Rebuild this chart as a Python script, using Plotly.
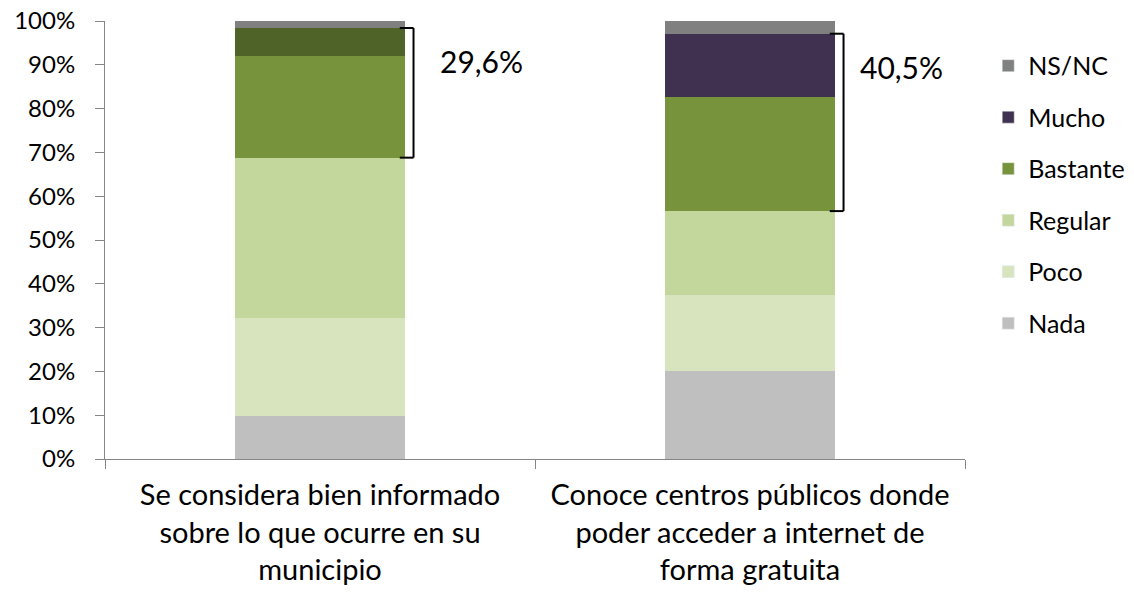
import plotly.graph_objects as go

categories = [
    "Se considera bien informado<br>sobre lo que ocurre en su<br>municipio",
    "Conoce centros públicos donde<br>poder acceder a internet de<br>forma gratuita",
]
series_names = ["Nada", "Poco", "Regular", "Bastante", "Mucho", "NS/NC"]
nada = [9.8, 20.2]
poco = [22.3, 17.2]
regular = [36.7, 19.2]
bastante = [23.2, 26.1]
mucho = [6.4, 14.4]
nsnc = [1.6, 2.9]
values = [nada, poco, regular, bastante, mucho, nsnc]
colors = [
    ["#BFBFBF", "#BFBFBF"],
    ["#D7E4BD", "#D7E4BD"],
    ["#C3D69B", "#C3D69B"],
    ["#77933C", "#77933C"],
    ["#4F6228", "#403151"],
    ["#808080", "#808080"],
]
legend_colors = ["#BFBFBF", "#D7E4BD", "#C3D69B", "#77933C", "#403151", "#808080"]
label_offsets = [0.375, 0.352]

FONT = "Lato"
BAR_W = 0.395

fig = go.Figure()
# legend entries first, top to bottom: NS/NC ... Nada
for i in reversed(range(len(series_names))):
    fig.add_trace(go.Bar(
        x=[categories[0]], y=[None], name=series_names[i],
        marker=dict(color=legend_colors[i]),
        legendgroup=series_names[i], showlegend=True,
    ))
for i, (name, vals, cols) in enumerate(zip(series_names, values, colors)):
    fig.add_trace(go.Bar(
        x=categories, y=vals, name=name, width=BAR_W,
        marker=dict(color=cols, line=dict(width=0)),
        legendgroup=name, showlegend=False, hoverinfo="name+y",
    ))

for i in range(len(categories)):
    base = nada[i] + poco[i] + regular[i]
    top = base + bastante[i] + mucho[i]
    xv = i + BAR_W / 2 + 0.02
    xt = i + BAR_W / 2 - 0.012
    line = dict(color="black", width=2)
    fig.add_shape(type="line", xref="x", yref="y", x0=xv, x1=xv, y0=base, y1=top, line=line)
    fig.add_shape(type="line", xref="x", yref="y", x0=xt, x1=xv, y0=base, y1=base, line=line)
    fig.add_shape(type="line", xref="x", yref="y", x0=xt, x1=xv, y0=top, y1=top, line=line)
    txt = f"{bastante[i] + mucho[i]:.1f}".replace(".", ",") + "%"
    fig.add_annotation(x=i + label_offsets[i], y=top - 7.5, xref="x", yref="y",
                       text=txt, showarrow=False, xanchor="center", yanchor="middle",
                       font=dict(family=FONT, size=30, color="black"))

fig.update_layout(
    barmode="stack",
    width=1134, height=592,
    margin=dict(l=105, r=169, t=21, b=133, autoexpand=False),
    plot_bgcolor="white", paper_bgcolor="white",
    font=dict(family=FONT, size=22, color="#222222"),
    legend=dict(
        x=1.027, y=0.95, xanchor="left", yanchor="top",
        traceorder="grouped", tracegroupgap=16,
        font=dict(family=FONT, size=25, color="black"),
        itemwidth=30,
    ),
    showlegend=True,
)
fig.update_xaxes(
    type="category", range=[-0.5, 1.5], automargin=False,
    showline=True, linecolor="#868686", linewidth=1,
    ticks="outside", tickson="boundaries", ticklen=9, tickcolor="#868686",
    showgrid=False, ticklabelstandoff=10, ticklabeloverflow="allow",
    tickfont=dict(family=FONT, size=29, color="black"),
)
fig.update_yaxes(
    range=[0, 100], tickvals=list(range(0, 101, 10)), automargin=False,
    ticktext=[f"{v}%" for v in range(0, 101, 10)],
    showline=True, linecolor="#868686", linewidth=1,
    ticks="outside", ticklen=9, tickcolor="#868686",
    showgrid=False, zeroline=False, ticklabelstandoff=15,
    ticklabeloverflow="allow",
    tickfont=dict(family=FONT, size=24, color="black"),
)

fig.write_html("out.html", config={"displayModeBar": False},
               post_script="document.body.style.margin='0';")
